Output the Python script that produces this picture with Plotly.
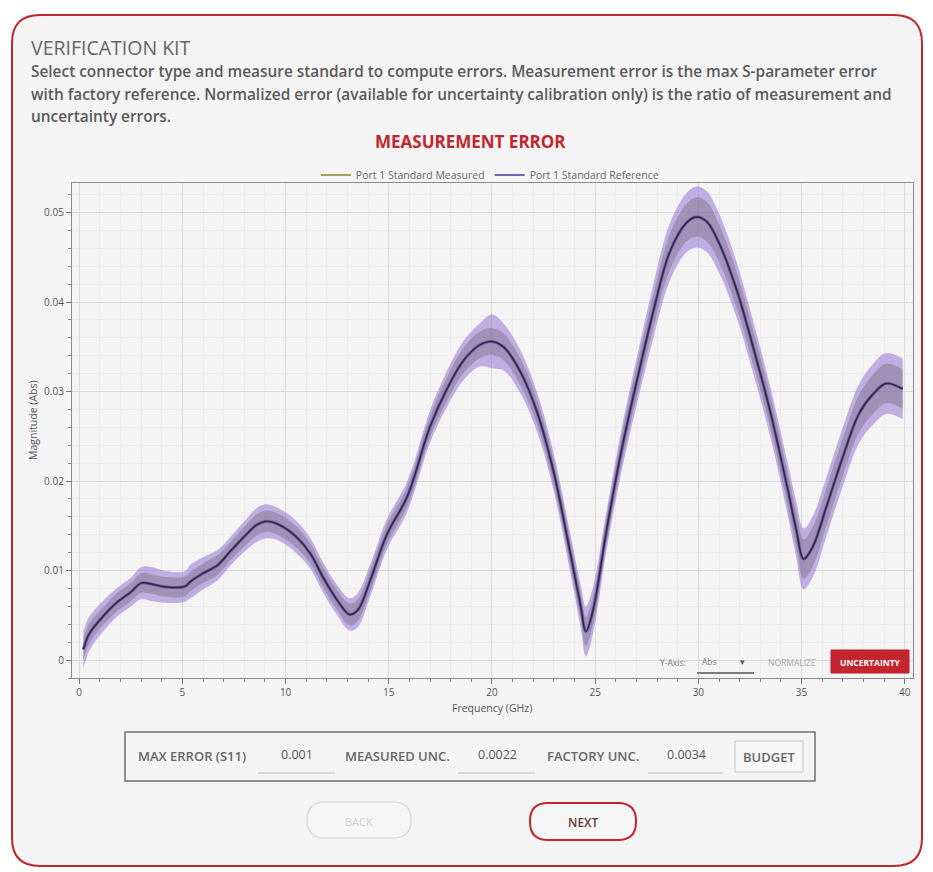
import numpy as np
import plotly.graph_objects as go

W, H = 933, 872

# Frequency sweep (GHz) and measured S11 error magnitude
freq = [0.2, 0.5, 1.2, 1.8, 2.5, 3.0, 3.5, 4.1, 5.1, 5.4, 6.0, 6.7, 7.3, 8.0, 8.6,
        9.1, 9.7, 10.5, 11.2, 11.8, 12.5, 13.1, 13.5, 14.1, 14.9, 15.9, 17.0, 17.8,
        18.6, 19.4, 20.0, 20.6, 21.4, 22.2, 23.0, 23.8, 24.3, 24.55, 24.9, 25.55,
        26.3, 27.2, 27.8, 28.6, 29.4, 29.9, 30.4, 31.0, 31.85, 32.65, 33.5, 34.3,
        34.75, 35.1, 35.55, 36.2, 37.0, 37.8, 38.5, 39.1, 39.9]
measured = [0.0012, 0.0030, 0.0050, 0.0064, 0.0076, 0.0086, 0.0085, 0.0082, 0.0082,
            0.0088, 0.0097, 0.0106, 0.0121, 0.0138, 0.0151, 0.0155, 0.0151, 0.0138,
            0.0119, 0.0093, 0.0067, 0.0051, 0.0056, 0.0089, 0.0140, 0.0183, 0.0261,
            0.0302, 0.0334, 0.0352, 0.0356, 0.0349, 0.0321, 0.0276, 0.0209, 0.0119,
            0.0060, 0.0032, 0.0056, 0.0145, 0.0237, 0.0330, 0.0388, 0.0455, 0.0488,
            0.0495, 0.0490, 0.0466, 0.0414, 0.0350, 0.0276, 0.0194, 0.0145, 0.0113,
            0.0127, 0.0171, 0.0227, 0.0276, 0.0298, 0.0309, 0.0303]
# Half-widths of the uncertainty bands (factory reference / measurement)
reference_unc = [0.0021, 0.0019, 0.0017, 0.0016, 0.0016, 0.0018, 0.0019, 0.0018,
                 0.0017, 0.0019, 0.0018, 0.0017, 0.0016, 0.0017, 0.0019, 0.0019, 0.0018,
                 0.0018, 0.0017, 0.0017, 0.0017, 0.0018, 0.0019, 0.0018, 0.0017,
                 0.0017, 0.0018, 0.0020, 0.0022, 0.0024, 0.0030, 0.0026,
                 0.0024, 0.0022, 0.0021, 0.0022, 0.0024, 0.0028, 0.0026,
                 0.0022, 0.0024, 0.0027, 0.0030, 0.0032, 0.0033, 0.0034, 0.0034,
                 0.0033, 0.0031, 0.0029, 0.0028, 0.0029, 0.0031, 0.0034,
                 0.0034, 0.0033, 0.0033, 0.0033, 0.0034, 0.0034, 0.0034]
measured_unc = [0.0012, 0.0011, 0.0010, 0.0010, 0.0010, 0.0011, 0.0011, 0.0011,
                0.0011, 0.0011, 0.0011, 0.0011, 0.0010, 0.0011, 0.0012, 0.0012, 0.0012,
                0.0012, 0.0011, 0.0011, 0.0011, 0.0012, 0.0012, 0.0012, 0.0011,
                0.0011, 0.0012, 0.0013, 0.0014, 0.0015, 0.0015, 0.0015,
                0.0015, 0.0014, 0.0014, 0.0014, 0.0015, 0.0016, 0.0016,
                0.0015, 0.0016, 0.0018, 0.0019, 0.0020, 0.0021, 0.0022, 0.0022,
                0.0021, 0.0020, 0.0019, 0.0018, 0.0019, 0.0020, 0.0022,
                0.0022, 0.0021, 0.0021, 0.0021, 0.0022, 0.0022, 0.0022]

legend_names = ["Port 1 Standard Measured", "Port 1 Standard Reference"]
summary_labels = ["MAX ERROR (S11)", "MEASURED UNC.", "FACTORY UNC."]
summary_values = ["0.001", "0.0022", "0.0034"]

FONT = "Open Sans"
RED = "#c0272d"

m = np.array(measured)
ru = np.array(reference_unc)
mu = np.array(measured_unc)


def px(x):
    return x / W


def py(y):
    return 1 - y / H


def rounded_rect(x0, y0, x1, y1, r):
    rx, ry = r / W, r / H
    a, b, c, d = px(x0), py(y1), px(x1), py(y0)  # left, bottom, right, top
    return (f"M {a+rx},{d} L {c-rx},{d} Q {c},{d} {c},{d-ry} "
            f"L {c},{b+ry} Q {c},{b} {c-rx},{b} L {a+rx},{b} "
            f"Q {a},{b} {a},{b+ry} L {a},{d-ry} Q {a},{d} {a+rx},{d} Z")


fig = go.Figure()

# reference uncertainty band
fig.add_trace(go.Scatter(x=freq, y=m - ru, mode="lines", line=dict(width=0, shape="spline"),
                         showlegend=False, hoverinfo="skip"))
fig.add_trace(go.Scatter(x=freq, y=m + ru, mode="lines", line=dict(width=0, shape="spline"),
                         fill="tonexty", fillcolor="rgba(155,124,216,0.58)",
                         showlegend=False, hoverinfo="skip"))
# measurement uncertainty band
fig.add_trace(go.Scatter(x=freq, y=m - mu, mode="lines", line=dict(width=0, shape="spline"),
                         showlegend=False, hoverinfo="skip"))
fig.add_trace(go.Scatter(x=freq, y=m + mu, mode="lines", line=dict(width=0, shape="spline"),
                         fill="tonexty", fillcolor="rgba(115,108,118,0.42)",
                         showlegend=False, hoverinfo="skip"))
# reference and measured traces
fig.add_trace(go.Scatter(x=freq, y=measured, mode="lines",
                         line=dict(color="#6a58a8", width=3.0, shape="spline"),
                         showlegend=False, hoverinfo="skip"))
fig.add_trace(go.Scatter(x=freq, y=measured, mode="lines",
                         line=dict(color="#2e2838", width=1.4, shape="spline"),
                         showlegend=False))
# legend entries
fig.add_trace(go.Scatter(x=[None], y=[None], mode="lines", name=legend_names[0],
                         line=dict(color="#a6a45a", width=2)))
fig.add_trace(go.Scatter(x=[None], y=[None], mode="lines", name=legend_names[1],
                         line=dict(color="#6f64b8", width=2)))

shapes = [
    # outer panel
    dict(type="path", xref="paper", yref="paper", path=rounded_rect(12, 15, 922, 866, 28),
         fillcolor="#f4f4f4", line=dict(color=RED, width=2), layer="below"),
    # summary box
    dict(type="rect", xref="paper", yref="paper", x0=px(125), x1=px(815), y0=py(781), y1=py(732),
         line=dict(color="#707070", width=1.5), fillcolor="rgba(0,0,0,0)"),
    # budget button
    dict(type="rect", xref="paper", yref="paper", x0=px(735), x1=px(803), y0=py(772), y1=py(741),
         line=dict(color="#c8c8c8", width=1), fillcolor="#f7f7f7"),
    # back / next buttons
    dict(type="path", xref="paper", yref="paper", path=rounded_rect(307, 802, 411, 838, 18),
         line=dict(color="#dcdcdc", width=1.5), fillcolor="#f6f6f6"),
    dict(type="path", xref="paper", yref="paper", path=rounded_rect(530, 803, 636, 840, 18),
         line=dict(color=RED, width=2), fillcolor="#f6f6f6"),
    # y-axis control underline and uncertainty button
    dict(type="line", xref="paper", yref="paper", x0=px(697), x1=px(754), y0=py(673), y1=py(673),
         line=dict(color="#555", width=1.5)),
    dict(type="rect", xref="paper", yref="paper", x0=px(831), x1=px(909), y0=py(673), y1=py(650),
         line=dict(color="#b3202a", width=1), fillcolor="#c42630"),
]
# underlines of value fields
for x0, x1 in [(258, 335), (458, 535), (648, 723)]:
    shapes.append(dict(type="line", xref="paper", yref="paper", x0=px(x0), x1=px(x1),
                       y0=py(773), y1=py(773), line=dict(color="#bbbbbb", width=1)))

ann = []


def text(x, y, s, size, color, xanchor="left", weight=400, angle=0):
    ann.append(dict(x=px(x), y=py(y), xref="paper", yref="paper", text=s,
                    showarrow=False, xanchor=xanchor, yanchor="middle", textangle=angle,
                    font=dict(family=FONT, size=size, color=color, weight=weight)))


text(29, 47, "VERIFICATION KIT", 19.5, "#666666", weight=500)
desc = ["Select connector type and measure standard to compute errors. Measurement error is the max S-parameter error",
        "with factory reference. Normalized error (available for uncertainty calibration only) is the ratio of measurement and",
        "uncertainty errors."]
for i, line in enumerate(desc):
    text(29, 72 + i * 22.5, line, 15.4, "#5a5a5a", weight=600)
text(470, 141, "MEASUREMENT ERROR", 17, RED, xanchor="center", weight=700)
text(492, 708, "Frequency (GHz)", 10.5, "#555555", xanchor="center")
text(33, 420, "Magnitude (Abs)", 10.5, "#555555", xanchor="center", angle=-90)

# summary row
text(136, 756, summary_labels[0], 13, "#666666", weight=600)
text(297, 754, summary_values[0], 12.5, "#555555", xanchor="center")
text(343, 756, summary_labels[1], 13, "#666666", weight=600)
text(497, 754, summary_values[1], 12.5, "#555555", xanchor="center")
text(545, 756, summary_labels[2], 13, "#666666", weight=600)
text(686, 754, summary_values[2], 12.5, "#555555", xanchor="center")
text(769, 757, "BUDGET", 13, "#666666", xanchor="center", weight=600)
text(359, 821, "BACK", 11, "#cfcfcf", xanchor="center")
text(583, 822, "NEXT", 12, "#6a3a3a", xanchor="center", weight=600)

# y-axis controls
text(658, 662, "Y-Axis:", 8.5, "#777777")
text(700, 661, "Abs", 8.5, "#777777")
text(742, 661, "▾", 9, "#555555", xanchor="center")
text(792, 662, "NORMALIZE", 8.5, "#aaaaaa", xanchor="center")
text(870, 662, "UNCERTAINTY", 8.5, "#ffffff", xanchor="center", weight=700)

fig.update_layout(
    width=W, height=H,
    margin=dict(l=0, r=0, t=0, b=0),
    paper_bgcolor="#ffffff",
    plot_bgcolor="#fafafa",
    font=dict(family=FONT, size=9.5, color="#555555"),
    shapes=shapes,
    annotations=ann,
    showlegend=True,
    legend=dict(orientation="h", x=0.525, xanchor="center", y=py(175), yanchor="middle",
                traceorder="normal",
                bgcolor="rgba(0,0,0,0)", font=dict(family=FONT, size=10.5, color="#666666"),
                itemwidth=30, tracegroupgap=0),
    xaxis=dict(domain=[px(72), px(913)], range=[-0.35, 40.4], dtick=5, tick0=0,
               showgrid=True, gridcolor="#d9d9d9", gridwidth=1,
               minor=dict(dtick=1, showgrid=True, gridcolor="#ebebeb", ticks="outside",
                          ticklen=3, tickcolor="#888"),
               ticks="outside", ticklen=5, tickcolor="#777", showline=True, linecolor="#8a8a8a",
               linewidth=1.2, mirror=True, zeroline=False,
               tickfont=dict(family=FONT, size=10, color="#555")),
    yaxis=dict(domain=[py(678), py(183)], range=[-0.002, 0.0533], dtick=0.01, tick0=0,
               tickformat="~g", showgrid=True, gridcolor="#d9d9d9", gridwidth=1,
               minor=dict(dtick=0.002, showgrid=True, gridcolor="#ebebeb", ticks="outside",
                          ticklen=3, tickcolor="#888"),
               ticks="outside", ticklen=5, tickcolor="#777", showline=True, linecolor="#8a8a8a",
               linewidth=1.2, mirror=True, zeroline=False,
               tickfont=dict(family=FONT, size=10, color="#555")),
)

fig.write_html("out.html")
